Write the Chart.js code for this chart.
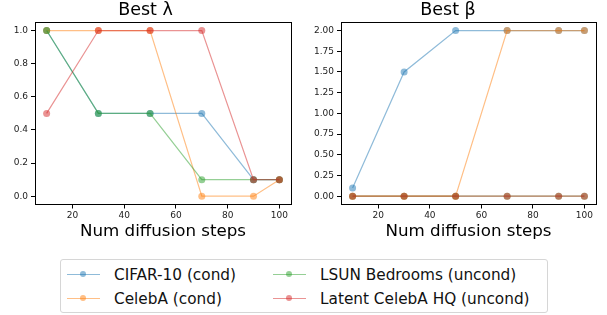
<!DOCTYPE html>
<html>
<head>
<meta charset="utf-8">
<script src="https://cdn.jsdelivr.net/npm/chart.js"></script>
<style>
  body { margin: 0; background: #fff; width: 607px; height: 315px; position: relative; overflow: hidden; font-family: "DejaVu Sans", sans-serif; }
  .box { position: absolute; top: 0; }
  #legend { position: absolute; left: 60px; top: 259px; width: 486px; height: 52px; border: 1px solid #d6d6d6; border-radius: 3px; }
  .item { position: absolute; font-size: 15.3px; color: #111; line-height: 18px; white-space: nowrap; }
  .sw { position: absolute; top: 8px; left: -47px; width: 33px; height: 0; border-top: 1.5px solid; }
  .sw i { position: absolute; left: 13px; top: -4.5px; width: 6px; height: 6px; border-radius: 50%; }
</style>
</head>
<body>
<div class="box" style="left:0;width:300px;height:245px"><canvas id="lam"></canvas></div>
<div class="box" style="left:300px;width:307px;height:245px"><canvas id="bet"></canvas></div>
<div id="legend"></div>

<script>
const steps = [10, 30, 50, 70, 90, 100];
const seriesNames = ['CIFAR-10 (cond)', 'CelebA (cond)', 'LSUN Bedrooms (uncond)', 'Latent CelebA HQ (uncond)'];
const colors = ['31,119,180', '255,127,14', '44,160,44', '214,39,40'];

const bestLambda = [
  [1.0, 0.5, 0.5, 0.5, 0.1, 0.1],
  [1.0, 1.0, 1.0, 0.0, 0.0, 0.1],
  [1.0, 0.5, 0.5, 0.1, 0.1, 0.1],
  [0.5, 1.0, 1.0, 1.0, 0.1, 0.1]
];
const bestBeta = [
  [0.1, 1.5, 2.0, 2.0, 2.0, 2.0],
  [0.0, 0.0, 0.0, 2.0, 2.0, 2.0],
  [0.0, 0.0, 0.0, 0.0, 0.0, 0.0],
  [0.0, 0.0, 0.0, 0.0, 0.0, 0.0]
];

const xTicks = [20, 40, 60, 80, 100];
const lambdaTicks = [0.0, 0.2, 0.4, 0.6, 0.8, 1.0];
const betaTicks = [0.0, 0.25, 0.5, 0.75, 1.0, 1.25, 1.5, 1.75, 2.0];

const frame = {
  id: 'frame',
  afterDraw(chart) {
    const a = chart.chartArea, c = chart.ctx;
    c.save();
    c.strokeStyle = '#000';
    c.lineWidth = 1;
    c.strokeRect(Math.round(a.left) + 0.5, Math.round(a.top) + 0.5, Math.round(a.right - a.left), Math.round(a.bottom - a.top));
    c.restore();
  }
};

function makeChart(id, title, values, yTicks, yMin, yMax, yWidth, decimals, padRight) {
  // later series sit on top, like matplotlib
  const datasets = values.map((vals, i) => ({
    label: seriesNames[i],
    data: steps.map((s, j) => ({ x: s, y: vals[j] })),
    order: values.length - i,
    borderColor: 'rgba(' + colors[i] + ',0.5)',
    backgroundColor: 'rgba(' + colors[i] + ',0.5)',
    borderWidth: 1.2,
    pointRadius: 3.5,
    pointBorderWidth: 0,
    tension: 0
  }));
  return new Chart(document.getElementById(id), {
    type: 'line',
    data: { datasets },
    plugins: [frame],
    options: {
      animation: false,
      responsive: true,
      maintainAspectRatio: false,
      layout: { padding: { left: 0, right: padRight, top: 0, bottom: 5 } },
      plugins: {
        legend: { display: false },
        tooltip: { enabled: false },
        title: {
          display: true, text: title, color: '#000',
          font: { family: 'DejaVu Sans', size: 17.5, weight: 'normal', lineHeight: 1.1 },
          padding: { top: 1, bottom: 2 }
        }
      },
      scales: {
        x: {
          type: 'linear', min: 5.5, max: 104.5,
          afterBuildTicks: s => { s.ticks = xTicks.map(v => ({ value: v })); },
          ticks: { color: '#222', font: { family: 'DejaVu Sans', size: 9 }, padding: 2, maxRotation: 0 },
          grid: { display: true, drawOnChartArea: false, tickLength: 4, tickColor: '#000' },
          border: { display: false },
          title: { display: true, text: 'Num diffusion steps', color: '#000',
                   font: { family: 'DejaVu Sans', size: 16.7, lineHeight: 1.0 }, padding: { top: 0, bottom: 0 } }
        },
        y: {
          type: 'linear', min: yMin, max: yMax,
          afterBuildTicks: s => { s.ticks = yTicks.map(v => ({ value: v })); },
          afterFit: s => { s.width = yWidth; },
          ticks: { color: '#222', font: { family: 'DejaVu Sans', size: 9 }, padding: 3,
                   callback: v => Number(v).toFixed(decimals) },
          grid: { display: true, drawOnChartArea: false, tickLength: 4, tickColor: '#000' },
          border: { display: false }
        }
      }
    }
  });
}

makeChart('lam', 'Best λ', bestLambda, lambdaTicks, -0.05, 1.05, 35, 1, 9);
makeChart('bet', 'Best β', bestBeta, betaTicks, -0.1, 2.1, 41, 2, 11);

const legend = document.getElementById('legend');
const spots = [[53, 6], [259, 6], [53, 30], [259, 30]];
const legendOrder = [0, 2, 1, 3];
legendOrder.forEach((i, k) => {
  const d = document.createElement('div');
  d.className = 'item';
  d.style.left = spots[k][0] + 'px';
  d.style.top = spots[k][1] + 'px';
  d.innerHTML = '<span class="sw" style="border-color:rgba(' + colors[i] + ',0.5)"><i style="background:rgba(' + colors[i] + ',0.5)"></i></span>' + seriesNames[i];
  legend.appendChild(d);
});
</script>
</body>
</html>
